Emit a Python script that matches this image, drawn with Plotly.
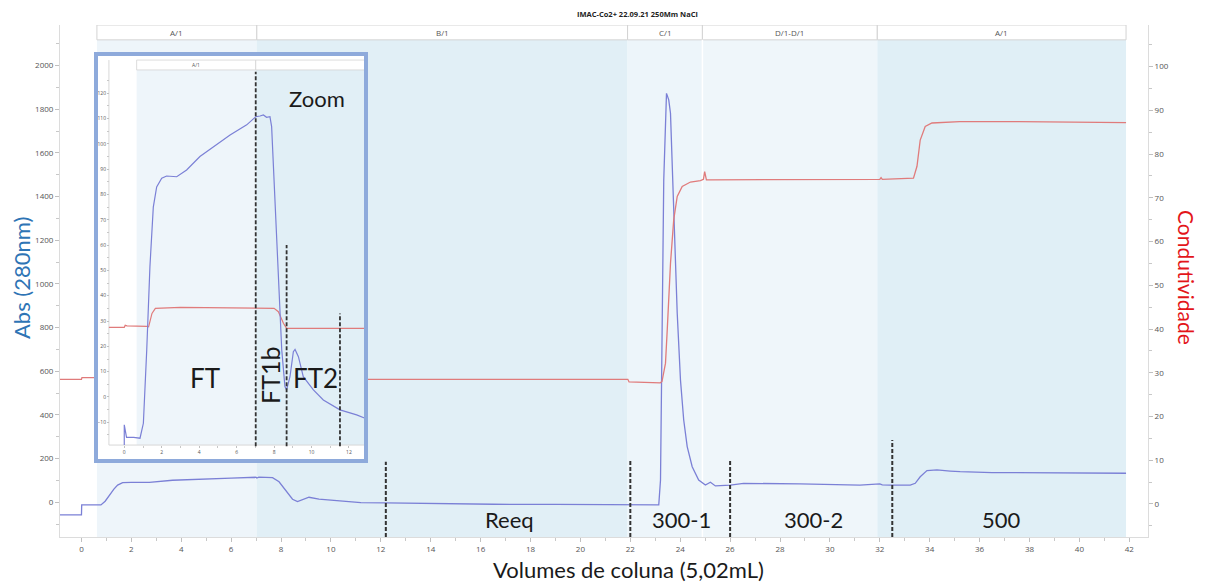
import plotly.graph_objects as go

# ---------------- data ----------------
# main UV trace (Abs 280 nm) vs column volumes
uv_x = [-0.86, 0.0, 0.01, 0.78, 0.95, 1.11, 1.3, 1.45, 1.65, 2.0, 2.72, 3.65, 4.99, 6.0,
        6.99, 7.03, 7.11, 7.66, 7.92, 8.19, 8.46, 8.66, 8.86, 9.12, 9.52, 10.33, 11.2,
        12.2, 14.0, 16.5, 19.0, 21.9, 23.0, 23.14, 23.21, 23.28, 23.34, 23.45, 23.54,
        23.61, 23.74, 23.88, 24.01, 24.14, 24.28, 24.48, 24.74, 25.01, 25.21, 25.41,
        26.01, 26.54, 28.8, 31.2, 32.0, 32.1, 32.4, 33.22, 33.42, 33.62, 33.89, 34.29,
        34.82, 35.22, 36.5, 41.87]
uv_abs = [-58, -58, -12, -12, 5, 33, 60, 79, 90, 91, 91.5, 101, 108, 111,
          114.5, 111, 115, 113, 94, 56, 14, 3, 10.5, 23, 14, 6, -2,
          -3, -6, -9, -10, -12, -12, -12, 102, 713, 1476, 1873, 1843,
          1782, 1324, 866, 560, 377, 255, 163, 102, 79, 92, 75,
          79, 87, 84, 79, 84, 80, 79, 79, 87, 117, 145, 148,
          143, 140, 136, 133]

# main conductivity trace
cond_x = [-0.86, 0.0, 0.02, 1.2, 1.35, 1.6, 1.8, 8.1, 8.3, 8.6, 8.8, 21.9, 21.95, 22.3,
          23.2, 23.27, 23.34, 23.41, 23.48, 23.61, 23.74, 23.88, 24.08, 24.41, 24.81,
          24.93, 24.98, 25.05, 25.2, 28.0, 31.2, 32.0, 32.05, 32.1, 33.35, 33.49, 33.62,
          33.82, 34.09, 35.2, 37.6, 41.87]
cond_val = [28.5, 28.5, 28.9, 28.9, 30.0, 34.0, 35.5, 35.5, 33.0, 29.0, 28.5, 28.5, 27.9, 27.8,
            27.7, 28.0, 29.9, 32.2, 39.8, 55.0, 65.0, 70.3, 72.6, 73.6, 73.9,
            74.2, 76.0, 74.1, 74.1, 74.1, 74.1, 74.2, 74.6, 74.2, 74.5, 77.2, 83.2,
            86.3, 87.1, 87.4, 87.4, 87.2]

# zoomed (inset) view
zoom_x = [0.0, 0.0, 0.12, 0.5, 0.84, 1.02, 1.2, 1.37, 1.55, 1.73, 2.0, 2.26, 2.8, 3.33,
          4.04, 4.75, 5.65, 6.54, 7.02, 7.25, 7.43, 7.6, 7.78, 7.87, 8.05, 8.23, 8.41,
          8.58, 8.67, 8.85, 9.03, 9.12, 9.3, 9.56, 10.1, 10.63, 11.52, 12.41, 12.86]
zoom_abs = [-19, -11, -16, -16, -16.3, -10.4, 18.6, 51.5, 75, 83, 86.4, 87.3, 87, 89.7,
            95, 98.9, 103.5, 107.5, 110.7, 111, 111.4, 110.5, 110.7, 106.8, 77.8, 44.9, 18.6,
            4.1, 2.8, 8, 17.9, 18.8, 15.9, 8, 2.8, -1.2, -5.1, -7.1, -8.4]
zoom_cond_x = [-0.82, 0.0, 0.05, 0.15, 1.2, 1.3, 1.48, 1.66, 3.0, 7.78, 8.0, 8.23, 8.5, 8.67, 12.86]
zoom_cond = [27.5, 27.5, 28.3, 28.1, 27.9, 27.7, 33.0, 35.0, 35.4, 35.2, 35.0, 33.7, 29.1, 27.1, 27.1]

# phases (header band)
phase_labels = ["A/1", "B/1", "C/1", "D/1-D/1", "A/1"]
phase_edges = [0.62, 7.03, 21.89, 24.89, 31.9, 41.87]
phase_fill = ["#eef5fa", "#e1eff6", "#edf5fa", "#eff6fa", "#e0eff6"]

# fraction annotations
fraction_labels = ["Reeq", "300-1", "300-2", "500"]
fraction_x = [17.16, 24.05, 29.33, 36.86]
cut_x = [12.2, 22.0, 26.0, 32.5]
cut_top = [186, 189, 189, 285]

# inset annotations
zoom_phase_edges = [0.66, 7.02, 12.91]
zoom_phase_labels = ["A/1", ""]
zoom_phase_fill = ["#eef5fa", "#e1eff6"]
zoom_cut_x = [7.02, 8.67, 11.52]
zoom_cut_top = [128.5, 60, 33]
zoom_region_labels = ["FT", "FT1b", "FT2"]
zoom_region_x = [4.31, 7.78, 10.19]
zoom_region_y = [7.5, 8.7, 7.5]
zoom_region_angle = [0, -90, 0]

# ---------------- styling ----------------
BLUE = "#7b80d6"
RED = "#e07b7b"
TXT = "Lato"
TICKFONT = dict(family="Open Sans", size=8, color="#555")

W, H = 1205, 583
ML, MR, MT, MB = 60, 57, 25, 46
PW, PH = W - ML - MR, H - MT - MB


def px_x(p):
    return (p - ML) / PW


def px_y(p):
    return (H - MB - p) / PH


fig = go.Figure()

fig.add_trace(go.Scatter(x=uv_x, y=uv_abs, mode="lines", line=dict(color=BLUE, width=1.3),
                         xaxis="x", yaxis="y", showlegend=False, hoverinfo="skip"))
fig.add_trace(go.Scatter(x=cond_x, y=cond_val, mode="lines", line=dict(color=RED, width=1.3),
                         xaxis="x", yaxis="y2", showlegend=False, hoverinfo="skip"))
fig.add_trace(go.Scatter(x=zoom_cond_x, y=zoom_cond, mode="lines", line=dict(color=RED, width=1.2),
                         xaxis="x3", yaxis="y3", showlegend=False, hoverinfo="skip"))
fig.add_trace(go.Scatter(x=zoom_x, y=zoom_abs, mode="lines", line=dict(color=BLUE, width=1.2),
                         xaxis="x3", yaxis="y3", showlegend=False, hoverinfo="skip"))

Y_LO, Y_HI = -159, 2186
HDR = 2118
shapes = []
annots = []


def note(**kw):
    kw.setdefault("showarrow", False)
    kw.setdefault("xanchor", "center")
    kw.setdefault("yanchor", "middle")
    annots.append(kw)


# main shading + header band
for i, lab in enumerate(phase_labels):
    x0, x1 = phase_edges[i], phase_edges[i + 1]
    shapes.append(dict(type="rect", xref="x", yref="y", x0=x0, x1=x1, y0=Y_LO, y1=HDR,
                       fillcolor=phase_fill[i], line=dict(width=0), layer="below"))
    shapes.append(dict(type="rect", xref="x", yref="y", x0=x0, x1=x1, y0=HDR, y1=Y_HI,
                       fillcolor="white", line=dict(color="#d3d3d3", width=1), layer="below"))
    note(x=(x0 + x1) / 2, y=(HDR + Y_HI) / 2, xref="x", yref="y", text=lab,
         font=dict(family="Open Sans", size=8, color="#555"))
shapes.append(dict(type="line", xref="x", yref="y", x0=phase_edges[3], x1=phase_edges[3],
                   y0=Y_LO, y1=HDR, line=dict(color="white", width=1.5), layer="below"))

# main dashed cut lines
for cx, ct in zip(cut_x, cut_top):
    shapes.append(dict(type="line", xref="x", yref="y", x0=cx, x1=cx, y0=Y_LO, y1=ct,
                       line=dict(color="#333", width=2, dash="4px,2px"), layer="above"))
for lab, fx in zip(fraction_labels, fraction_x):
    note(x=fx, y=-81, xref="x", yref="y", text=lab,
         font=dict(family=TXT, size=22, color="#1a1a1a"))

# inset shading + header
Z_LO, Z_HDR, Z_TOP = -19, 129.2, 133.1
for i, lab in enumerate(zoom_phase_labels):
    x0, x1 = zoom_phase_edges[i], zoom_phase_edges[i + 1]
    shapes.append(dict(type="rect", xref="x3", yref="y3", x0=x0, x1=x1, y0=Z_LO, y1=Z_HDR,
                       fillcolor=zoom_phase_fill[i], line=dict(width=0), layer="below"))
    shapes.append(dict(type="rect", xref="x3", yref="y3", x0=x0, x1=x1, y0=Z_HDR, y1=Z_TOP,
                       fillcolor="white", line=dict(color="#d3d3d3", width=0.8), layer="below"))
    if lab:
        note(x=(x0 + x1) / 2, y=(Z_HDR + Z_TOP) / 2, xref="x3", yref="y3", text=lab,
             font=dict(family="Open Sans", size=5, color="#555"))
# inset axis lines
shapes.append(dict(type="line", xref="x3", yref="y3", x0=-0.82, x1=-0.82, y0=Z_LO, y1=Z_TOP,
                   line=dict(color="#d8d8d8", width=1), layer="below"))
shapes.append(dict(type="line", xref="x3", yref="y3", x0=-0.82, x1=12.91, y0=Z_LO, y1=Z_LO,
                   line=dict(color="#d8d8d8", width=1), layer="below"))
for cx, ct in zip(zoom_cut_x, zoom_cut_top):
    shapes.append(dict(type="line", xref="x3", yref="y3", x0=cx, x1=cx, y0=Z_LO - 0.5, y1=ct,
                       line=dict(color="#333", width=1.8, dash="4px,2px"), layer="above"))
for lab, zx, zy, ang in zip(zoom_region_labels, zoom_region_x, zoom_region_y, zoom_region_angle):
    note(x=zx, y=zy, xref="x3", yref="y3", text=lab, textangle=ang,
         font=dict(family=TXT, size=26 if ang == 0 else 25, color="#1a1a1a"))
note(x=10.28, y=118, xref="x3", yref="y3", text="Zoom",
     font=dict(family=TXT, size=22, color="#1a1a1a"))

# inset frame
shapes.append(dict(type="rect", xref="paper", yref="paper", x0=px_x(96), x1=px_x(366),
                   y0=px_y(461), y1=px_y(54), line=dict(color="#8eaadb", width=4),
                   fillcolor="rgba(0,0,0,0)", layer="above"))

# titles
note(x=px_x(637), y=px_y(14), xref="paper", yref="paper",
     text="<b>IMAC-Co2+ 22.09.21 250Mm NaCl</b>",
     font=dict(family="Open Sans", size=7.5, color="#222"))
note(x=px_x(628), y=px_y(569), xref="paper", yref="paper",
     text="Volumes de coluna (5,02mL)",
     font=dict(family=TXT, size=22, color="#1a1a1a"))
note(x=px_x(21), y=px_y(278), xref="paper", yref="paper", text="Abs (280nm)",
     textangle=-90, font=dict(family=TXT, size=22, color="#2e74b5"))
note(x=px_x(1187), y=px_y(277), xref="paper", yref="paper", text="Condutividade",
     textangle=90, font=dict(family=TXT, size=21, color="#e3151a"))

axis_common = dict(showgrid=False, zeroline=False, ticks="outside", ticklen=4,
                   tickcolor="#c0c0c0", showline=True, linecolor="#dcdcdc", linewidth=1,
                   tickfont=TICKFONT)

fig.update_layout(
    width=W, height=H, margin=dict(l=ML, r=MR, t=MT, b=MB),
    paper_bgcolor="white", plot_bgcolor="white", showlegend=False,
    xaxis=dict(range=[-0.86, 42.75], tickmode="linear", tick0=0, dtick=2,
               minor=dict(dtick=1, ticks="outside", ticklen=3, tickcolor="#c8c8c8"),
               **axis_common),
    yaxis=dict(range=[Y_LO, Y_HI], tickmode="linear", tick0=0, dtick=200,
               minor=dict(dtick=100, ticks="outside", ticklen=3, tickcolor="#c8c8c8"),
               **axis_common),
    yaxis2=dict(range=[-7.55, 109.5], overlaying="y", side="right", tickmode="linear", tick0=0,
                dtick=10, minor=dict(dtick=5, ticks="outside", ticklen=3, tickcolor="#c8c8c8"),
                **axis_common),
    xaxis3=dict(domain=[px_x(96), px_x(366)], range=[-1.51, 12.91], anchor="free",
                position=px_y(445), tickvals=list(range(0, 13, 2)),
                minor=dict(tickvals=list(range(0, 13)), ticks="outside", ticklen=2, tickcolor="#c8c8c8"),
                showgrid=False, zeroline=False, ticks="outside", ticklen=2, tickcolor="#c0c0c0",
                showline=False, tickfont=dict(family="Open Sans", size=5, color="#555")),
    yaxis3=dict(domain=[px_y(461), px_y(54)], range=[-25.3, 135.5], anchor="free",
                position=px_x(109), tickvals=list(range(-10, 121, 10)),
                minor=dict(tickvals=list(range(-15, 126, 5)), ticks="outside", ticklen=2, tickcolor="#c8c8c8"),
                showgrid=False, zeroline=False, ticks="outside", ticklen=2, tickcolor="#c0c0c0",
                showline=False, tickfont=dict(family="Open Sans", size=5, color="#555")),
    shapes=shapes, annotations=annots,
)

fig.write_html("out.html")
